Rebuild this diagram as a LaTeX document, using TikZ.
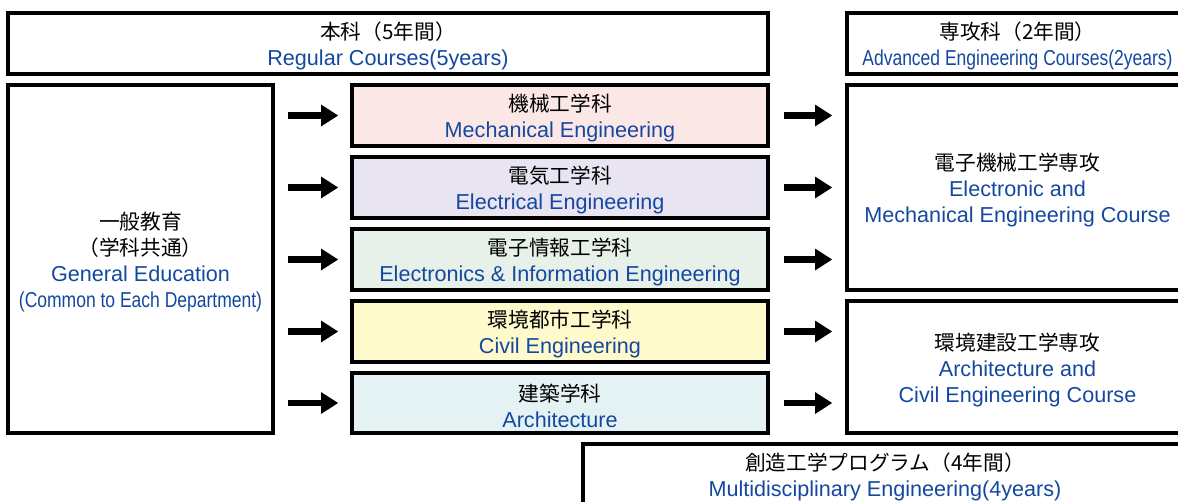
\documentclass[tikz,border=0pt]{standalone}
\usepackage{graphicx}
\usepackage{fontspec}
\setmainfont{Liberation Sans}
\newfontfamily\jpfont{Noto Sans CJK JP}
\usetikzlibrary{arrows.meta}
\definecolor{eblue}{RGB}{20,72,160}
\definecolor{fpink}{RGB}{251,232,230}
\definecolor{flav}{RGB}{233,228,241}
\definecolor{fgreen}{RGB}{231,241,233}
\definecolor{fyellow}{RGB}{255,250,204}
\definecolor{fcyan}{RGB}{229,242,243}
\newcommand\J[1]{{\jpfont\fontsize{15.5}{19.5}\selectfont #1}}
\newcommand\Jt[1]{{\jpfont\fontsize{15.5}{19.5}\selectfont\rule{0pt}{17.5pt}#1}}
\newcommand\E[1]{\textcolor{eblue}{#1}}
\def\u{0.75pt}
\begin{document}
\begin{tikzpicture}[x=0.75pt,y=-0.75pt,
  box/.style={draw=black, line width=2.5pt, align=center, inner sep=0pt,
    font=\fontsize{16.2}{19.5}\selectfont},
  arr/.style={line width=5pt, -{Triangle[length=13pt,width=15.5pt]}},
  larr/.style={arr, shorten <=13*\u, shorten >=12*\u},
  rarr/.style={arr, shorten <=14*\u, shorten >=13*\u}]
\useasboundingbox (0,0) rectangle (1178,501);
\clip (0,0) rectangle (1178,501);

\node[box, minimum width=760*\u, minimum height=61*\u] (reg) at (388,43.5)
  {\Jt{本科（5年間）}\\ \E{Regular Courses(5years)}};
\node[box, minimum width=341*\u, minimum height=61*\u] (adv) at (1017.5,43.5)
  {\Jt{専攻科（2年間）}\\ \E{\scalebox{0.81}[1]{Advanced Engineering Courses(2years)}}};

\node[box, minimum width=265*\u, minimum height=348*\u] (gen) at (140.5,259)
  {\Jt{一般教育}\\ \J{（学科共通）}\\ \E{General Education}\\
   \E{\scalebox{0.81}[1]{(Common to Each Department)}}};

\node[box, fill=fpink, minimum width=416*\u, minimum height=61*\u] (d1) at (560,115.5)
  {\Jt{機械工学科}\\ \E{Mechanical Engineering}};
\node[box, fill=flav, minimum width=416*\u, minimum height=61*\u] (d2) at (560,187.5)
  {\Jt{電気工学科}\\ \E{Electrical Engineering}};
\node[box, fill=fgreen, minimum width=416*\u, minimum height=61*\u] (d3) at (560,259.5)
  {\Jt{電子情報工学科}\\ \E{Electronics \& Information Engineering}};
\node[box, fill=fyellow, minimum width=416*\u, minimum height=61*\u] (d4) at (560,331.5)
  {\Jt{環境都市工学科}\\ \E{Civil Engineering}};
\node[box, fill=fcyan, minimum width=416*\u, minimum height=60*\u] (d5) at (560,403)
  {\Jt{建築学科}\\ \E{Architecture}};

\node[box, minimum width=341*\u, minimum height=205*\u] (r1) at (1017.5,187.5)
  {\Jt{電子機械工学専攻}\\ \E{Electronic and}\\ \E{Mechanical Engineering Course}};
\node[box, minimum width=341*\u, minimum height=132*\u] (r2) at (1017.5,367)
  {\Jt{環境建設工学専攻}\\ \E{Architecture and}\\ \E{Civil Engineering Course}};

\node[box, minimum width=604*\u, minimum height=60*\u] (multi) at (885,474)
  {\Jt{創造工学プログラム（4年間）}\\ \E{Multidisciplinary Engineering(4years)}};

\foreach \d in {d1,d2,d3,d4,d5}
  \draw[larr] (gen.east |- \d.west) -- (\d.west);
\foreach \d in {d1,d2,d3}
  \draw[rarr] (\d.east) -- (r1.west |- \d.east);
\foreach \d in {d4,d5}
  \draw[rarr] (\d.east) -- (r2.west |- \d.east);
\end{tikzpicture}
\end{document}
